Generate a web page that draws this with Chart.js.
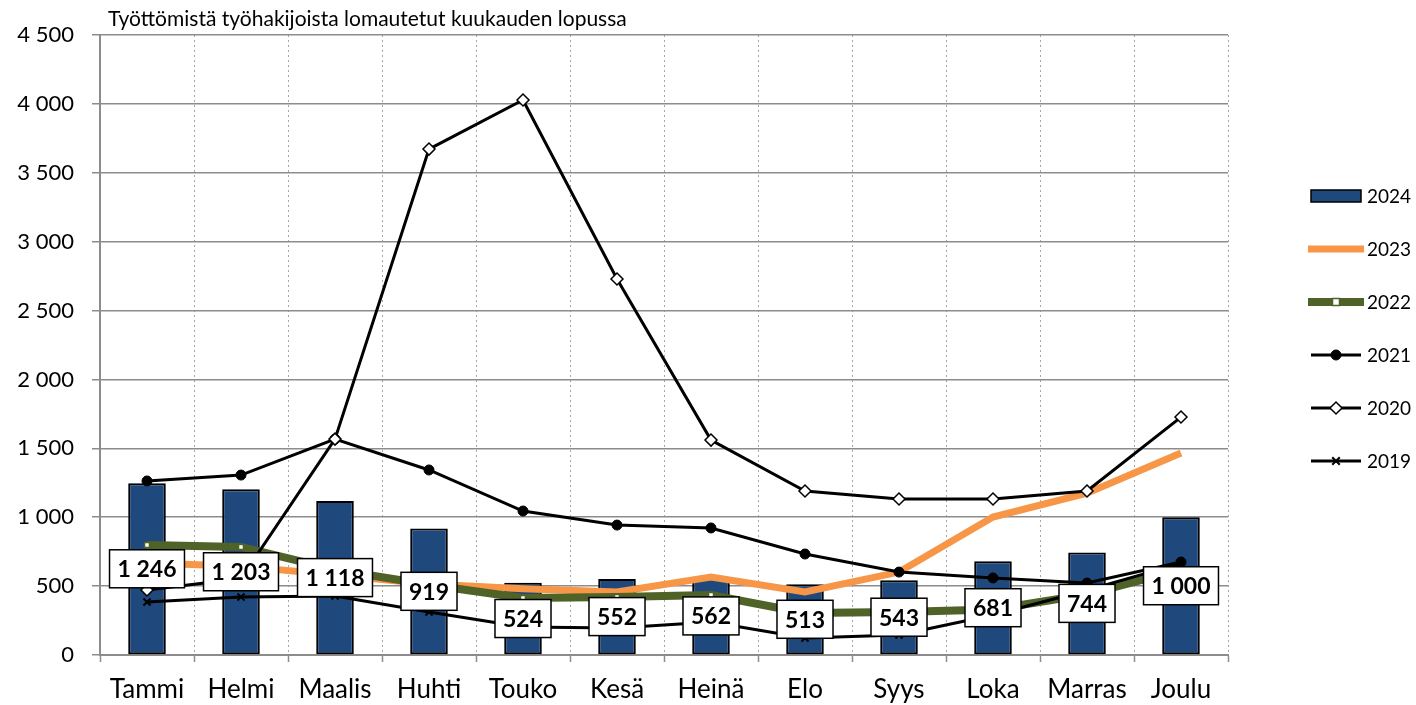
<!DOCTYPE html>
<html>
<head>
<meta charset="utf-8">
<script src="https://cdn.jsdelivr.net/npm/chart.js@4"></script>
<style>
html, body { margin: 0; padding: 0; background: #fff; }
#wrap { width: 1416px; height: 705px; }
</style>
</head>
<body>
<div id="wrap"><canvas id="chart"></canvas></div>
<script>
// Lomautetut työttömät työnhakijat kuukauden lopussa

const months = ['Tammi', 'Helmi', 'Maalis', 'Huhti', 'Touko', 'Kesä', 'Heinä', 'Elo', 'Syys', 'Loka', 'Marras', 'Joulu'];
const yTicks = [0, 500, 1000, 1500, 2000, 2500, 3000, 3500, 4000, 4500];

const v2024 = [1246, 1203, 1118, 919, 524, 552, 562, 513, 543, 681, 744, 1000];
const v2023 = [668, 645, 580, 515, 480, 457, 566, 457, 602, 1001, 1175, 1466];
const v2022 = [798, 784, 620, 510, 414, 421, 435, 305, 312, 330, 440, 620];
const v2021 = [1263, 1306, 1567, 1343, 1045, 943, 922, 733, 602, 559, 522, 675];
const v2020 = [472, 555, 1567, 3672, 4028, 2729, 1560, 1190, 1132, 1132, 1190, 1727];
const v2019 = [385, 421, 428, 312, 203, 196, 240, 123, 145, 290, 470, 665];

const FONT = 'Lato';
const NAVY = '#1F497D';
const ORANGE = '#F79646';
const GREEN = '#4F6228';
const GRID = '#8C8C8C';

function fmt(v) {
  return String(v).replace(/\B(?=(\d{3})+(?!\d))/g, ' ');
}

// valkoiset laatikot palkkien arvoille
const boxLabels = {
  id: 'boxLabels',
  afterDatasetsDraw(chart) {
    const ctx = chart.ctx;
    const meta = chart.getDatasetMeta(0);
    ctx.save();
    ctx.font = 'bold 23px ' + FONT;
    ctx.textAlign = 'center';
    ctx.textBaseline = 'middle';
    meta.data.forEach((bar, i) => {
      const text = fmt(v2024[i]);
      const w = ctx.measureText(text).width + 16;
      const h = 38;
      const cx = bar.x;
      const cy = (bar.y + bar.base) / 2;
      ctx.fillStyle = '#fff';
      ctx.fillRect(cx - w / 2, cy - h / 2, w, h);
      ctx.strokeStyle = '#000';
      ctx.lineWidth = 1.5;
      ctx.strokeRect(cx - w / 2, cy - h / 2, w, h);
      ctx.fillStyle = '#000';
      ctx.fillText(text, cx, cy + 1);
    });
    ctx.restore();
  }
};

function marker(ctx, style, r, x, y, bg, border, bw) {
  ctx.beginPath();
  if (style === 'circle') {
    ctx.arc(x, y, r, 0, Math.PI * 2);
  } else if (style === 'rect') {
    ctx.rect(x - r, y - r, r * 2, r * 2);
  } else if (style === 'rectRot') {
    ctx.moveTo(x, y - r); ctx.lineTo(x + r, y); ctx.lineTo(x, y + r); ctx.lineTo(x - r, y); ctx.closePath();
  } else if (style === 'crossRot') {
    const d = r * 0.75;
    ctx.moveTo(x - d, y - d); ctx.lineTo(x + d, y + d);
    ctx.moveTo(x + d, y - d); ctx.lineTo(x - d, y + d);
  }
  if (style !== 'crossRot') {
    ctx.fillStyle = bg;
    ctx.fill();
  }
  ctx.lineWidth = bw;
  ctx.strokeStyle = border;
  ctx.stroke();
}

// oma selite oikealle
const sideLegend = {
  id: 'sideLegend',
  afterDraw(chart) {
    const ctx = chart.ctx;
    const x0 = chart.chartArea.right + 80;
    const x1 = x0 + 56;
    let y = 196;
    ctx.save();
    ctx.font = '19px ' + FONT;
    ctx.textBaseline = 'middle';
    chart.data.datasets.forEach(ds => {
      if (ds.type === 'bar') {
        ctx.fillStyle = ds.backgroundColor;
        ctx.fillRect(x0 + 3, y - 6, 50, 12);
        ctx.strokeStyle = '#000';
        ctx.lineWidth = 1.5;
        ctx.strokeRect(x0 + 3, y - 6, 50, 12);
      } else {
        ctx.beginPath();
        ctx.moveTo(x0 + (ds.borderWidth > 4 ? 0 : 3), y);
        ctx.lineTo(x1 - (ds.borderWidth > 4 ? 0 : 3), y);
        ctx.strokeStyle = ds.borderColor;
        ctx.lineWidth = ds.borderWidth;
        ctx.stroke();
        if (ds.pointStyle && ds.pointRadius > 0) {
          marker(ctx, ds.pointStyle, ds.pointRadius, (x0 + x1) / 2, y,
            ds.pointBackgroundColor, ds.pointBorderColor, ds.pointBorderWidth);
        }
      }
      ctx.fillStyle = '#000';
      ctx.fillText(ds.label, x1 + 3, y + 1);
      y += 53;
    });
    ctx.restore();
  }
};

const chartTitle = {
  id: 'chartTitle',
  afterDraw(chart) {
    const ctx = chart.ctx;
    ctx.save();
    ctx.font = '21px ' + FONT;
    ctx.fillStyle = '#000';
    ctx.textBaseline = 'alphabetic';
    ctx.fillText('Työttömistä työhakijoista lomautetut kuukauden lopussa', chart.chartArea.left + 8, 26);
    ctx.restore();
  }
};

function lineSet(label, data, color, width, style, radius, bg, border, bw, order) {
  return {
    type: 'line',
    label: label,
    data: data,
    borderColor: color,
    borderWidth: width,
    tension: 0,
    pointStyle: style || false,
    pointRadius: radius,
    pointHoverRadius: radius,
    pointBackgroundColor: bg,
    pointBorderColor: border,
    pointBorderWidth: bw,
    order: order
  };
}

const ctx = document.getElementById('chart').getContext('2d');

const myChart = new Chart(ctx, {
  data: {
    labels: months,
    datasets: [
      {
        type: 'bar',
        label: '2024',
        data: v2024,
        backgroundColor: NAVY,
        borderColor: '#000',
        borderWidth: 2,
        borderSkipped: false,
        barPercentage: 0.4,
        categoryPercentage: 1.0,
        order: 10
      },
      lineSet('2023', v2023, ORANGE, 7, false, 0, ORANGE, ORANGE, 0, 6),
      lineSet('2022', v2022, GREEN, 8, 'rect', 3.5, '#fff', GREEN, 1.5, 5),
      lineSet('2021', v2021, '#000', 3, 'circle', 5, '#000', '#000', 1, 4),
      lineSet('2020', v2020, '#000', 3, 'rectRot', 6, '#fff', '#000', 1.5, 3),
      lineSet('2019', v2019, '#000', 3, 'crossRot', 5, '#000', '#000', 2, 2)
    ]
  },
  plugins: [boxLabels, sideLegend, chartTitle],
  options: {
    responsive: true,
    maintainAspectRatio: false,
    animation: false,
    layout: {
      padding: { top: 35, right: 188, left: 0, bottom: 0 }
    },
    scales: {
      x: {
        offset: true,
        grid: {
          offset: true,
          color: '#A6A6A6',
          lineWidth: 1,
          tickLength: 7,
          tickColor: GRID,
          tickWidth: 1.5,
          tickBorderDash: []
        },
        border: { display: true, color: GRID, width: 2, dash: [2, 3] },
        ticks: {
          color: '#000',
          font: { family: FONT, size: 26 },
          padding: 12,
          maxRotation: 0,
          autoSkip: false
        },
        afterFit: function(scale) { scale.height = 50; }
      },
      y: {
        min: 0,
        max: 4500,
        afterBuildTicks: function(scale) {
          scale.ticks = yTicks.map(v => ({ value: v }));
        },
        grid: {
          color: GRID,
          lineWidth: 1.5,
          tickLength: 8
        },
        border: { display: true, color: GRID, width: 2 },
        ticks: {
          color: '#000',
          font: { family: FONT, size: 22 },
          padding: 18,
          callback: function(value) { return fmt(value); }
        },
        afterFit: function(scale) { scale.width = 100; }
      }
    },
    plugins: {
      legend: { display: false },
      tooltip: { enabled: false },
      title: { display: false }
    }
  }
});
</script>
</body>
</html>
